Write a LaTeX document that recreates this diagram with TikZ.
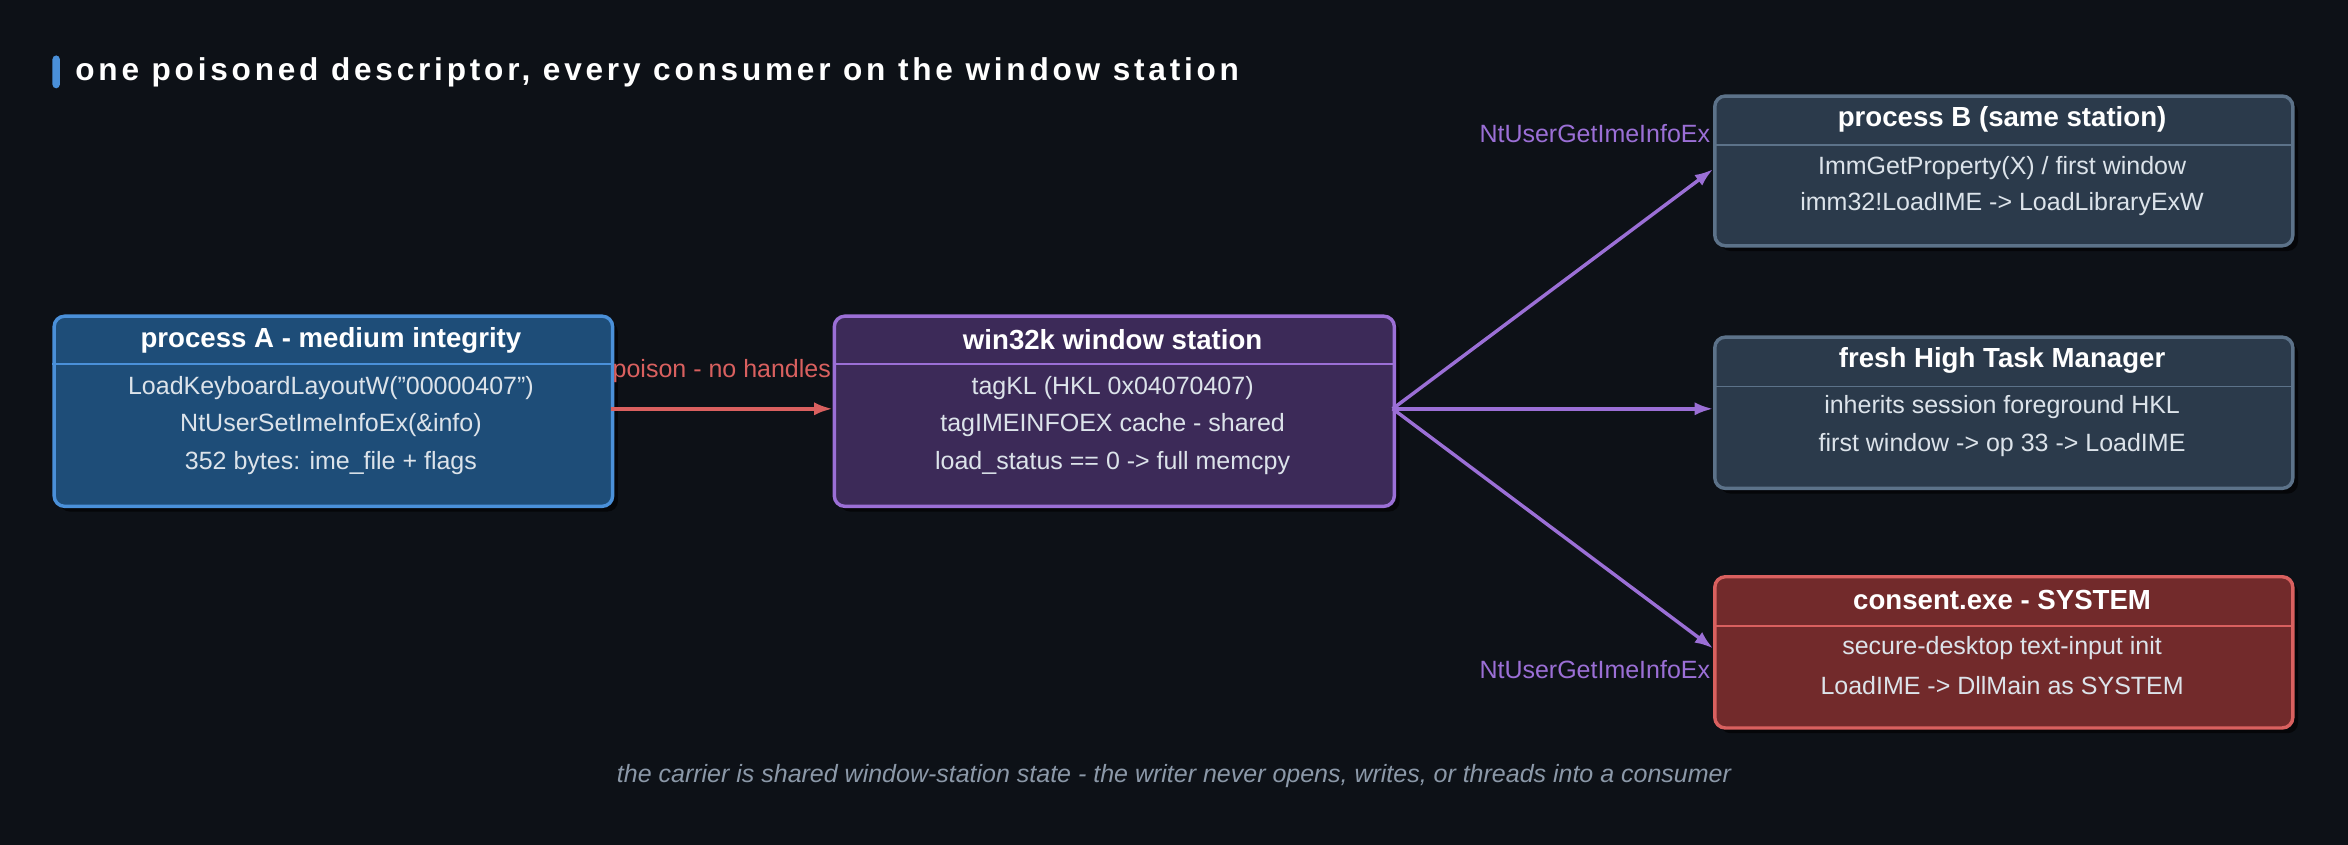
\documentclass[tikz,border=0pt]{standalone}
\usepackage{fontspec}
\setmainfont{Liberation Sans}
\usetikzlibrary{arrows.meta,positioning,shadows}
\definecolor{bgc}{HTML}{0D1117}
\definecolor{afill}{HTML}{1E4D78}
\definecolor{aline}{HTML}{4A90D9}
\definecolor{wfill}{HTML}{3C2A58}
\definecolor{wline}{HTML}{9B6FD6}
\definecolor{gfill}{HTML}{2B3A4B}
\definecolor{gline}{HTML}{5C7289}
\definecolor{cfill}{HTML}{722A2B}
\definecolor{cline}{HTML}{D9605F}
\definecolor{txt}{HTML}{DCE3EA}
\definecolor{note}{HTML}{8B98A8}
\begin{document}
\begin{tikzpicture}[x=0.02cm,y=-0.02cm,>={Latex[length=7pt,width=5pt]}]
  \tikzset{
    box/.style={draw=#1, line width=1.3pt, rounded corners=4pt, anchor=north west, inner sep=0pt,
      drop shadow={shadow xshift=2pt,shadow yshift=-2pt,fill=black,opacity=0.6}},
    head/.style={text=white, font=\bfseries\fontsize{10.5}{12}\selectfont},
    line/.style={text=txt, font=\fontsize{9.5}{11}\selectfont},
    flow/.style={->, line width=1.3pt, draw=wline},
    lbl/.style={text=wline, font=\fontsize{9.5}{11}\selectfont}
  }
  \fill[bgc] (0,0) rectangle (1568,564);
  \fill[aline, rounded corners=1.5pt] (35,37) rectangle (40,59);
  \node[anchor=west, text=white, font=\bfseries\fontsize{12}{14}\selectfont, inner sep=0pt] (title) at (50,48)
    {\addfontfeatures{LetterSpace=12}one poisoned descriptor, every consumer on the window station};
  % process A
  \node[box=aline, fill=afill, minimum width=373*0.02cm, minimum height=127*0.02cm] (pa) at (35,210) {};
  \draw[aline, line width=0.6pt] (35,243) -- (408,243);
  \node[head] (pat) at (221,227) {process A - medium integrity};
  \node[line] (pa1) at (221,259) {LoadKeyboardLayoutW("00000407")};
  \node[line] (pa2) at (221,284) {NtUserSetImeInfoEx(\&info)};
  \node[line] (pa3) at (221,309) {352 bytes: ime\_file + flags};
  % window station
  \node[box=wline, fill=wfill, minimum width=374*0.02cm, minimum height=127*0.02cm] (ws) at (556,210) {};
  \draw[wline, line width=0.6pt] (556,243) -- (930,243);
  \node[head] (wst) at (743,227) {win32k window station};
  \node[line] (ws1) at (743,259) {tagKL (HKL 0x04070407)};
  \node[line] (ws2) at (743,284) {tagIMEINFOEX cache - shared};
  \node[line] (ws3) at (743,309) {load\_status == 0 -> full memcpy};
  % process B
  \node[box=gline, fill=gfill, minimum width=386*0.02cm, minimum height=100*0.02cm] (pb) at (1144,63) {};
  \draw[gline, line width=0.6pt] (1144,97) -- (1530,97);
  \node[head] (pbt) at (1337,80) {process B (same station)};
  \node[line] (pb1) at (1337,112) {ImmGetProperty(X) / first window};
  \node[line] (pb2) at (1337,136) {imm32!LoadIME -> LoadLibraryExW};
  % task manager
  \node[box=gline, fill=gfill, minimum width=386*0.02cm, minimum height=101*0.02cm] (tm) at (1144,224) {};
  \draw[gline, line width=0.6pt] (1144,258) -- (1530,258);
  \node[head] (tmt) at (1337,241) {fresh High Task Manager};
  \node[line] (tm1) at (1337,272) {inherits session foreground HKL};
  \node[line] (tm2) at (1337,297) {first window -> op 33 -> LoadIME};
  % consent
  \node[box=cline, fill=cfill, minimum width=386*0.02cm, minimum height=101*0.02cm] (ce) at (1144,384) {};
  \draw[cline, line width=0.6pt] (1144,418) -- (1530,418);
  \node[head] (cet) at (1337,401) {consent.exe - SYSTEM};
  \node[line] (ce1) at (1337,433) {secure-desktop text-input init};
  \node[line] (ce2) at (1337,458) {LoadIME -> DllMain as SYSTEM};
  % connectors
  \coordinate (wsE) at (930,273);
  \draw[->, line width=1.3pt, draw=cline] (408,273) -- (556,273)
    node[midway, above=6pt, text=cline, font=\fontsize{9.5}{11}\selectfont] {poison - no handles};
  \draw[flow] (wsE) -- (1144,113);
  \draw[flow] (wsE) -- (1144,273);
  \draw[flow] (wsE) -- (1144,433);
  \node[lbl] (l1) at (1065,89) {NtUserGetImeInfoEx};
  \node[lbl] (l2) at (1065,447) {NtUserGetImeInfoEx};
  \node[text=note, font=\itshape\fontsize{9.5}{11}\selectfont] (foot) at (784,518)
    {the carrier is shared window-station state - the writer never opens, writes, or threads into a consumer};
\end{tikzpicture}
\end{document}
